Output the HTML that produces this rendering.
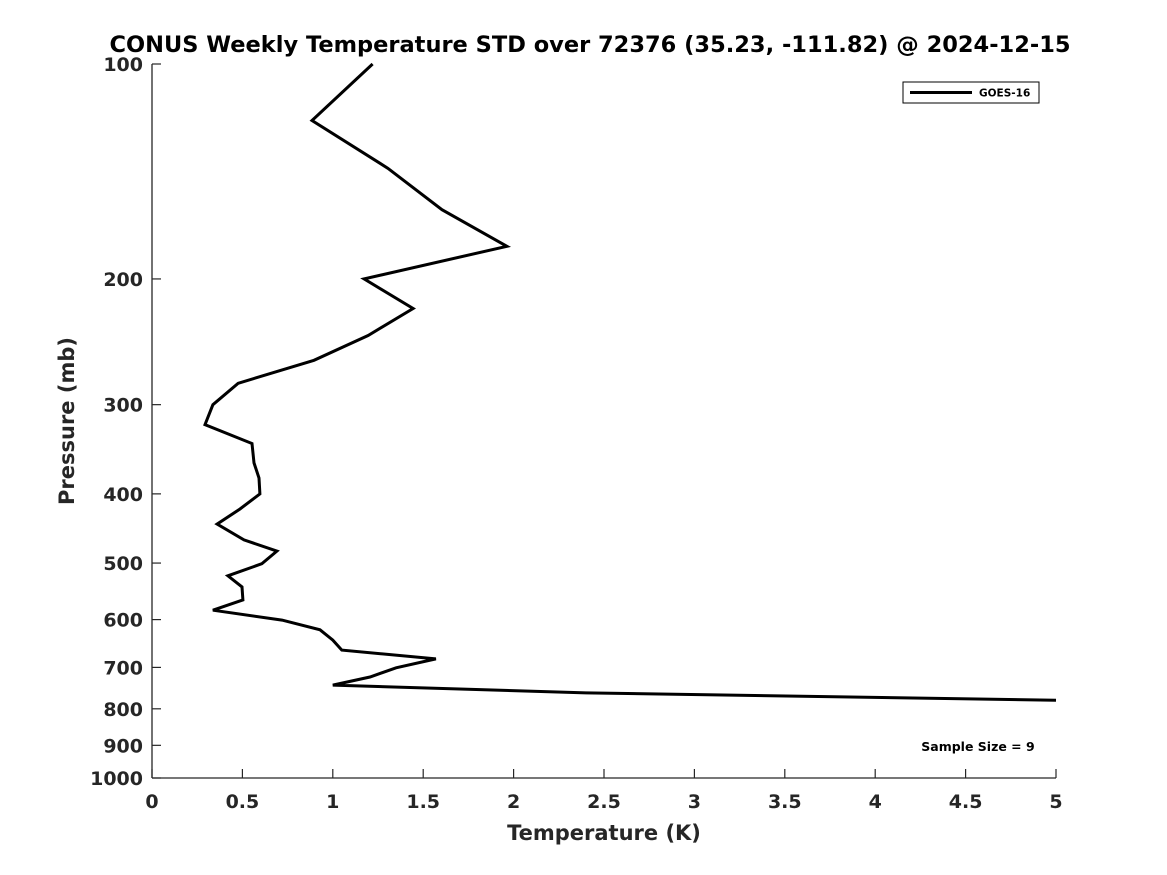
<!DOCTYPE html>
<html><head><meta charset="utf-8"><style>
html,body{margin:0;padding:0;background:#fff;}
svg{display:block;font-family:"DejaVu Sans","Liberation Sans",sans-serif;font-weight:bold;}
</style></head><body>
<svg id="chart" width="1167" height="875" viewBox="0 0 1167 875">
<text x="590" y="52" text-anchor="middle" font-size="22.5" fill="#000">CONUS Weekly Temperature STD over 72376 (35.23, -111.82) @ 2024-12-15</text>
<g id="axes"></g>
<g id="series"></g>
<text x="604" y="840" text-anchor="middle" font-size="21" fill="#262626">Temperature (K)</text>
<text transform="translate(74,421) rotate(-90)" text-anchor="middle" font-size="21" fill="#262626">Pressure (mb)</text>
<g>
<rect x="903" y="82" width="136" height="21" fill="#fff" stroke="#000" stroke-width="1"/>
<line x1="910" y1="92.5" x2="972" y2="92.5" stroke="#000" stroke-width="3"/>
<text x="979" y="96.5" font-size="10.5" fill="#000">GOES-16</text>
</g>
<text x="978" y="751" text-anchor="middle" font-size="12.5" fill="#000">Sample Size = 9</text>
</svg>
<script>
const xTicks = [0,0.5,1,1.5,2,2.5,3,3.5,4,4.5,5];
const xTickLabels = ["0","0.5","1","1.5","2","2.5","3","3.5","4","4.5","5"];
const yTicks = [100,200,300,400,500,600,700,800,900,1000];
const yTickLabels = ["100","200","300","400","500","600","700","800","900","1000"];
const pressures = [100,120,140,160,180,200,220,240,260,280,300,320,340,362,380,400,420,441,464,481,501,521,540,563,582,601,620,641,662,681,701,722,741,760,778];
const temps = [1.22,0.885,1.305,1.604,1.963,1.173,1.444,1.195,0.896,0.476,0.337,0.293,0.553,0.564,0.592,0.597,0.487,0.36,0.509,0.691,0.608,0.42,0.498,0.503,0.337,0.719,0.929,1.0,1.05,1.57,1.35,1.206,1.0,2.4,5.0];

const X0=152,X1=1056,Y0=64,Y1=778;
function xs(v){return X0+(v-0)/(5-0)*(X1-X0);}
function ys(p){return Y0+(Math.log10(p)-2)/(1)*(Y1-Y0);}
const NS="http://www.w3.org/2000/svg";
const axes=document.getElementById('axes');
const series=document.getElementById('series');
function mk(tag,attrs,parent){const e=document.createElementNS(NS,tag);for(const k in attrs)e.setAttribute(k,attrs[k]);parent.appendChild(e);return e;}

const xa=mk('line',{x1:X0,y1:Y1,x2:X1,y2:Y1,stroke:'#262626','stroke-width':1.3},axes);


const ya=mk('line',{x1:X0,y1:Y0,x2:X0,y2:Y1,stroke:'#262626','stroke-width':1.3},axes);



xTicks.forEach((v,i)=>{
  const x=xs(v);
  const t=mk('line',{x1:x,y1:Y1,x2:x,y2:Y1-9,stroke:'#262626','stroke-width':1.2},axes);
  
  
  const l=mk('text',{x:x,y:808,'text-anchor':'middle','font-size':19,fill:'#262626'},axes);
  l.textContent=xTickLabels[i];
  
  
});
yTicks.forEach((v,i)=>{
  const y=ys(v);
  const t=mk('line',{x1:X0,y1:y,x2:X0+9,y2:y,stroke:'#262626','stroke-width':1.2},axes);
  
  
  const l=mk('text',{x:143,y:y+7,'text-anchor':'end','font-size':19,fill:'#262626'},axes);
  l.textContent=yTickLabels[i];
  
  
});

const pts=temps.map((t,i)=>xs(t).toFixed(1)+','+ys(pressures[i]).toFixed(1)).join(' ');
const line=mk('polyline',{points:pts,fill:'none',stroke:'#000','stroke-width':3,'stroke-linejoin':'miter'},series);


</script>
</body></html>
